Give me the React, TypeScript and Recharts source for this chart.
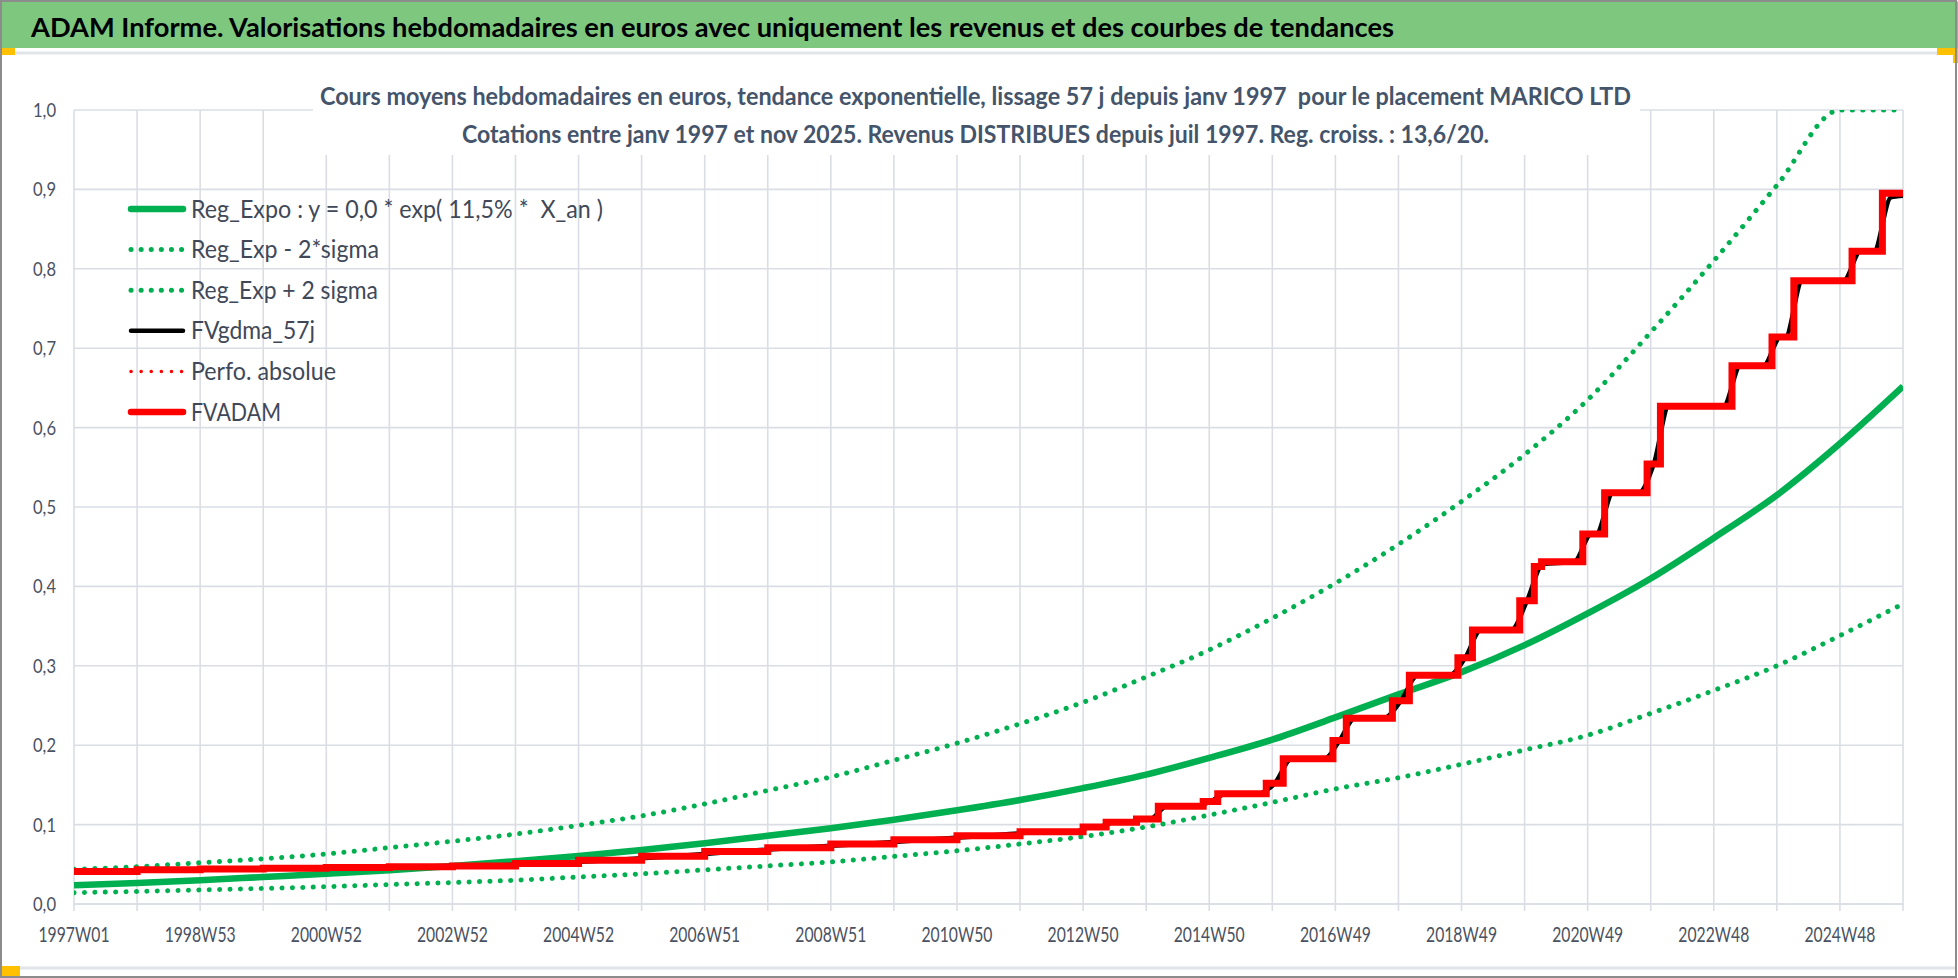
import React from 'react';
import { LineChart, Line, XAxis, YAxis, CartesianGrid } from 'recharts';

// weekly categories, 1997W01 = week 0, one gridline every 52 weeks
const xLabels = [
  '1997W01', '1998W53', '2000W52', '2002W52', '2004W52', '2006W51', '2008W51', '2010W50',
  '2012W50', '2014W50', '2016W49', '2018W49', '2020W49', '2022W48', '2024W48',
];
const lastWeek = 1508;
const yTicks = [0, 0.1, 0.2, 0.3, 0.4, 0.5, 0.6, 0.7, 0.8, 0.9, 1.0];

// trend curves, read once a year (every 52 weeks)
const regExpo = [
  0.0235, 0.0265, 0.03, 0.034, 0.038, 0.0425, 0.048, 0.054, 0.0605, 0.068,
  0.0765, 0.086, 0.0955, 0.106, 0.118, 0.131, 0.146, 0.163, 0.184, 0.207,
  0.235, 0.264, 0.292, 0.326, 0.366, 0.41, 0.461, 0.515, 0.58, 0.652,
];
const regExpMinus = [
  0.0142, 0.0158, 0.0176, 0.0196, 0.0218, 0.0245, 0.027, 0.03, 0.034, 0.038,
  0.043, 0.048, 0.053, 0.06, 0.067, 0.0756, 0.085, 0.097, 0.112, 0.128,
  0.145, 0.159, 0.176, 0.194, 0.2125, 0.24, 0.269, 0.3, 0.338, 0.378,
];
const regExpPlus = [
  0.0437, 0.047, 0.052, 0.057, 0.063, 0.071, 0.079, 0.088, 0.099, 0.111,
  0.126, 0.143, 0.16, 0.181, 0.2025, 0.227, 0.254, 0.286, 0.32, 0.36,
  0.404, 0.453, 0.507, 0.566, 0.635, 0.72, 0.81, 0.905, 1.0, 1.0,
];

// FVADAM step curve: week where a new level starts, and that level
const fvAdamWeeks = [
  0, 52, 104, 156, 208, 260, 312, 364, 416, 468, 520, 572, 624, 676, 728, 780, 832,
  851, 876, 894, 931, 943, 983, 997, 1038, 1049, 1087, 1101, 1141, 1153, 1192, 1204,
  1210, 1244, 1262, 1297, 1308, 1367, 1400, 1418, 1466, 1491, 1508,
];
const fvAdamValues = [
  0.041, 0.043, 0.044, 0.045, 0.046, 0.047, 0.048, 0.051, 0.055, 0.06, 0.066, 0.071,
  0.0755, 0.081, 0.086, 0.091, 0.097,
  0.103, 0.107, 0.123, 0.129, 0.139, 0.152, 0.183, 0.206, 0.234, 0.256, 0.288, 0.31,
  0.345, 0.382, 0.425, 0.431, 0.466, 0.518, 0.554, 0.627, 0.678, 0.714, 0.785, 0.822,
  0.895, 0.895,
];

// FVgdma_57j smoothed curve (S-shaped around each FVADAM step)
const fvGdmaWeeks = [
  0, 26, 78, 130, 182, 234, 286, 338, 390, 442, 494, 546, 598, 650, 702, 754, 806,
  825, 839, 844, 858, 869, 883, 887, 901, 924, 937, 950, 976, 990, 1004,
  1031, 1043.5, 1056, 1080, 1094, 1108, 1134, 1147, 1160, 1185, 1198, 1211,
  1237, 1251, 1255, 1269, 1290, 1302.5, 1315, 1360, 1374, 1393, 1407, 1411, 1425,
  1459, 1473, 1484, 1498, 1508,
];
const fvGdmaValues = [
  0.041, 0.041, 0.043, 0.044, 0.045, 0.046, 0.047, 0.048, 0.051, 0.055, 0.06, 0.066,
  0.071, 0.0755, 0.081, 0.086, 0.091,
  0.091, 0.097, 0.097, 0.103, 0.103, 0.107, 0.107, 0.123, 0.123, 0.129, 0.139, 0.139,
  0.152, 0.183, 0.183, 0.206, 0.234, 0.234, 0.256, 0.288, 0.288, 0.31, 0.345, 0.345,
  0.382, 0.428, 0.431, 0.466, 0.466, 0.518, 0.518, 0.554, 0.627, 0.627, 0.678, 0.678,
  0.714, 0.714, 0.785, 0.785, 0.822, 0.822, 0.89, 0.892,
];

const title = 'ADAM Informe. Valorisations hebdomadaires en euros avec uniquement les revenus et des courbes de tendances';
const subtitle1 = 'Cours moyens hebdomadaires en euros, tendance exponentielle, lissage 57 j depuis janv 1997  pour le placement MARICO LTD';
const subtitle2 = 'Cotations entre janv 1997 et nov 2025. Revenus DISTRIBUES depuis juil 1997. Reg. croiss. : 13,6/20.';

const legendItems = [
  { name: 'Reg_Expo : y = 0,0 * exp( 11,5% *  X_an )', color: '#00B050', dotted: false, w: 6.5, len: 412 },
  { name: 'Reg_Exp - 2*sigma', color: '#00B050', dotted: true, w: 5, len: 188 },
  { name: 'Reg_Exp + 2 sigma', color: '#00B050', dotted: true, w: 5, len: 187 },
  { name: 'FVgdma_57j', color: '#000000', dotted: false, w: 4.5, len: 124 },
  { name: 'Perfo. absolue', color: '#FF0000', dotted: true, w: 3.5, len: 145 },
  { name: 'FVADAM', color: '#FF0000', dotted: false, w: 6.5, len: 90 },
];

const FONT = 'Lato, "Open Sans", sans-serif';
const GRID = '#DADEE4';
const AXIS_TEXT = '#4A5261';

const gridWeeks = regExpo.map((_, k) => Math.min(k * 52, lastWeek));
const toPts = (weeks: number[], values: number[]) => weeks.map((week, i) => ({ week, v: values[i] }));
const regExpoData = toPts(gridWeeks, regExpo);
const regMinusData = toPts(gridWeeks, regExpMinus);
const regPlusData = toPts(gridWeeks, regExpPlus);
const fvAdamData = toPts(fvAdamWeeks, fvAdamValues);
const fvGdmaData = toPts(fvGdmaWeeks, fvGdmaValues);

// eslint-disable-next-line @typescript-eslint/no-explicit-any
function XTick({ x, y, payload }: any) {
  const w = payload.value;
  if (w % 104 !== 0) return <g />;
  const label = xLabels[w / 104];
  return (
    <text x={x} y={y + 29} textAnchor="middle" fontFamily={FONT} fontSize={22} fill={AXIS_TEXT}
      textLength={71} lengthAdjust="spacingAndGlyphs">
      {label}
    </text>
  );
}

// eslint-disable-next-line @typescript-eslint/no-explicit-any
function YTick({ x, y, payload }: any) {
  const label = Number(payload.value).toFixed(1).replace('.', ',');
  return (
    <text x={x} y={y + 7} textAnchor="end" fontFamily={FONT} fontSize={20} fill={AXIS_TEXT}
      textLength={23} lengthAdjust="spacingAndGlyphs">
      {label}
    </text>
  );
}

export default function App() {
  return (
    <div style={{ position: 'absolute', left: 0, top: 0, width: 1958, height: 978, background: '#fff', overflow: 'hidden' }}>
      <div style={{ position: 'absolute', left: 0, top: 0 }}>
        <LineChart width={1958} height={978} margin={{ top: 110, right: 55, bottom: 34, left: 14 }}>
          <CartesianGrid stroke={GRID} strokeWidth={1.6} />
          <XAxis
            type="number" dataKey="week" domain={[0, lastWeek]} ticks={gridWeeks} interval={0}
            height={40} tickSize={7} tickMargin={2} allowDataOverflow
            axisLine={{ stroke: GRID, strokeWidth: 1.6 }} tickLine={{ stroke: GRID, strokeWidth: 1.6 }}
            tick={<XTick />}
          />
          <YAxis
            type="number" domain={[0, 1]} ticks={yTicks} width={60} tickSize={0} tickMargin={18}
            axisLine={false} tickLine={false} tick={<YTick />} allowDataOverflow
          />
          <Line data={regExpoData} dataKey="v" type="monotone" stroke="#00B050" strokeWidth={6.5}
            dot={false} activeDot={false} isAnimationActive={false} />
          <Line data={regMinusData} dataKey="v" type="monotone" stroke="#00B050" strokeWidth={5}
            strokeDasharray="0.1 10.3" strokeLinecap="round" dot={false} activeDot={false} isAnimationActive={false} />
          <Line data={regPlusData} dataKey="v" type="monotone" stroke="#00B050" strokeWidth={5}
            strokeDasharray="0.1 10.3" strokeLinecap="round" dot={false} activeDot={false} isAnimationActive={false} />
          <Line data={fvGdmaData} dataKey="v" type="monotone" stroke="#000000" strokeWidth={4.5}
            dot={false} activeDot={false} isAnimationActive={false} />
          <Line data={fvAdamData} dataKey="v" type="stepAfter" stroke="#FF0000" strokeWidth={7}
            strokeLinejoin="miter" dot={false} activeDot={false} isAnimationActive={false} />
        </LineChart>
      </div>

      <svg width={1958} height={978} style={{ position: 'absolute', left: 0, top: 0, pointerEvents: 'none' }}>
        {/* title bar */}
        <rect x={0} y={1.5} width={1958} height={46.5} fill="#7DC87E" />
        <text x={31} y={37} fontFamily={FONT} fontWeight={700} fontSize={27} fill="#000"
          textLength={1363} lengthAdjust="spacingAndGlyphs">
          {title}
        </text>
        <rect x={15} y={51.5} width={1922} height={3} fill="#E1E4E8" />
        <rect x={20} y={966.5} width={1936} height={3} fill="#E1E4E8" />
        <rect x={0} y={48} width={15} height={7} fill="#FFC000" />
        <rect x={0} y={966} width={20} height={12} fill="#FFC000" />
        <rect x={1937} y={48} width={21} height={7} fill="#FFC000" />
        <rect x={1953} y={48} width={5} height={15} fill="#FFC000" />
        <rect x={1} y={1} width={1955} height={976} fill="none" stroke="#8C8C8C" strokeWidth={2} />

        {/* subtitle box */}
        <rect x={313} y={58} width={1327} height={97} fill="#fff" />
        <text x={320} y={105} fontFamily={FONT} fontWeight={700} fontSize={25} fill="#44546A"
          textLength={1311} lengthAdjust="spacingAndGlyphs" xmlSpace="preserve">
          {subtitle1}
        </text>
        <text x={462} y={143} fontFamily={FONT} fontWeight={700} fontSize={25} fill="#44546A"
          textLength={1027} lengthAdjust="spacingAndGlyphs" xmlSpace="preserve">
          {subtitle2}
        </text>

        {/* legend */}
        {legendItems.map((it, i) => {
          const cy = 209 + i * 40.6;
          return (
            <g key={it.name}>
              <line x1={131} x2={183} y1={cy} y2={cy} stroke={it.color} strokeWidth={it.w}
                strokeLinecap="round" strokeDasharray={it.dotted ? '0.1 10' : undefined} />
              <text x={191} y={cy + 8.5} fontFamily={FONT} fontSize={25} fill="#404858"
                textLength={it.len} lengthAdjust="spacingAndGlyphs" xmlSpace="preserve">
                {it.name}
              </text>
            </g>
          );
        })}
      </svg>
    </div>
  );
}
